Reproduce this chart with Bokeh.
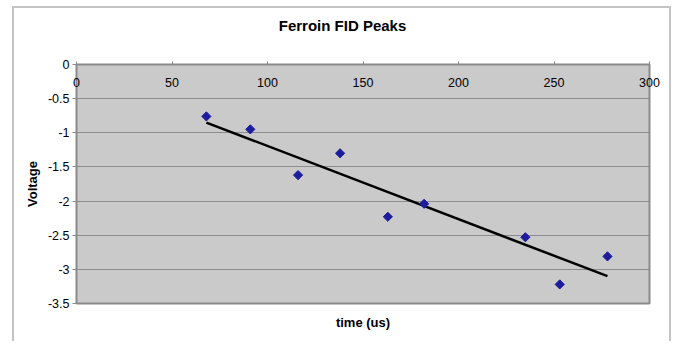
import math
from bokeh.plotting import figure
from bokeh.models import (Range1d, FixedTicker, LinearAxis, CustomJSTickFormatter, Label)
from bokeh.embed import file_html
from bokeh.resources import INLINE

# ---- data ----
time_us = [68, 91, 116, 138, 163, 182, 235, 253, 278]
voltage = [-0.76, -0.95, -1.62, -1.30, -2.23, -2.04, -2.53, -3.22, -2.81]
trend_x = [68, 278]
trend_y = [-0.85, -3.10]
x_ticks = [0, 50, 100, 150, 200, 250, 300]
y_ticks = [0, -0.5, -1, -1.5, -2, -2.5, -3, -3.5]
title_text = "Ferroin FID Peaks"

FONT = "Liberation Sans"

p = figure(width=659, height=335, output_backend="svg", toolbar_location=None,
           x_range=Range1d(0, 300), y_range=Range1d(-3.5, 0),
           x_axis_location="above", y_axis_location="left",
           min_border_left=62, min_border_top=56, min_border_right=24, min_border_bottom=40)
p.margin = (6, 0, 0, 12)
p.styles = {"border-left": "2px solid #c4c4c4", "border-top": "2px solid #c4c4c4",
            "border-right": "2px solid #c4c4c4"}

p.background_fill_color = "#cacaca"
p.border_fill_color = "white"
p.outline_line_color = "#8a8a8a"
p.outline_line_width = 2
p.title.text = ""

# title placed in the top side panel (screen units relative to that panel)
p.add_layout(Label(x=266, y=39, x_units="screen", y_units="screen", text=title_text,
                   text_align="center", text_baseline="middle",
                   text_font=FONT, text_font_size="15px", text_font_style="bold",
                   text_color="black"), "above")

fmt = CustomJSTickFormatter(code="return String(tick)")

# top x axis (at y = 0) with labels inside plot area
xa = p.xaxis[0]
xa.ticker = FixedTicker(ticks=x_ticks)
xa.formatter = fmt
xa.axis_line_color = None
xa.major_tick_out = 3
xa.major_tick_in = 0
xa.major_tick_line_color = "#8a8a8a"
xa.minor_tick_line_color = None
xa.major_label_standoff = -25
xa.major_label_text_font = FONT
xa.major_label_text_font_size = "12.5px"
xa.major_label_text_color = "black"

# bottom axis only for the title "time (us)"
xb = LinearAxis(ticker=FixedTicker(ticks=[]), axis_label="time (us)")
xb.axis_line_color = None
xb.major_tick_line_color = None
xb.minor_tick_line_color = None
xb.major_label_text_font_size = "0px"
xb.axis_label_text_font = FONT
xb.axis_label_text_font_size = "13px"
xb.axis_label_text_font_style = "bold"
xb.axis_label_text_color = "black"
xb.axis_label_standoff = 11
p.add_layout(xb, "below")

ya = p.yaxis[0]
ya.ticker = FixedTicker(ticks=y_ticks)
ya.formatter = fmt
ya.axis_label = "Voltage"
ya.axis_label_text_font = FONT
ya.axis_label_text_font_size = "13px"
ya.axis_label_text_font_style = "bold"
ya.axis_label_text_color = "black"
ya.axis_label_standoff = 5
ya.axis_line_color = None
ya.major_tick_out = 4
ya.major_tick_in = 0
ya.major_tick_line_color = "#8a8a8a"
ya.minor_tick_line_color = None
ya.major_label_standoff = 3
ya.major_label_text_font = FONT
ya.major_label_text_font_size = "12.5px"
ya.major_label_text_color = "black"

p.xgrid.grid_line_color = None
p.ygrid.ticker = FixedTicker(ticks=y_ticks)
p.ygrid.grid_line_color = "#8c8c8c"
p.ygrid.grid_line_width = 1

p.line(trend_x, trend_y, line_color="black", line_width=2.5)
p.scatter(time_us, voltage, marker="square", angle=math.pi / 4, size=6.5,
          fill_color="#1c1c9c", line_color="#1c1c9c")

open("out.html", "w").write(file_html(p, INLINE))
